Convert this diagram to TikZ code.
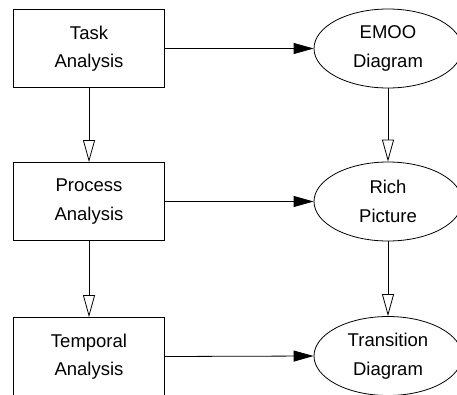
\documentclass[tikz,border=0pt]{standalone}
\usepackage{fontspec}
\setmainfont{Liberation Sans}
\usetikzlibrary{arrows.meta,shapes.geometric}
\begin{document}
\begin{tikzpicture}[x=1pt,y=-1pt,
  every node/.style={font=\fontsize{18.5}{28.5}\selectfont, align=center, inner sep=0pt},
  procbox/.style={draw, line width=0.8pt, rectangle, minimum width=151pt, minimum height=78pt},
  prodell/.style={draw, line width=0.8pt, ellipse, minimum width=148pt, minimum height=79pt},
  flow/.style={line width=0.8pt, -{Triangle[length=20pt,width=11pt]}},
  seq/.style={line width=0.8pt, -{Triangle[open,length=22pt,width=12pt]}}]
\clip (0,0) rectangle (457,394);
\useasboundingbox (0,0) rectangle (457,394);
\node[procbox] (ta) at (89,48.5) {Task\\Analysis};
\node[procbox] (pa) at (89,201.5) {Process\\Analysis};
\node[procbox] (tm) at (89,356.5) {Temporal\\Analysis};
\node[prodell] (em) at (388,48.5) {EMOO\\Diagram};
\node[prodell] (rp) at (388,201.5) {Rich\\Picture};
\node[prodell] (td) at (388,356) {Transition\\Diagram};
\draw[flow] (ta.east) -- (em.west);
\draw[flow] (pa.east) -- (rp.west);
\draw[flow] (tm.east) -- (td.west);
\draw[seq] (ta.south) -- (pa.north);
\draw[seq] (pa.south) -- (tm.north);
\draw[seq] (em.south) -- (rp.north);
\draw[seq] (rp.south) -- (td.north);
\end{tikzpicture}
\end{document}
